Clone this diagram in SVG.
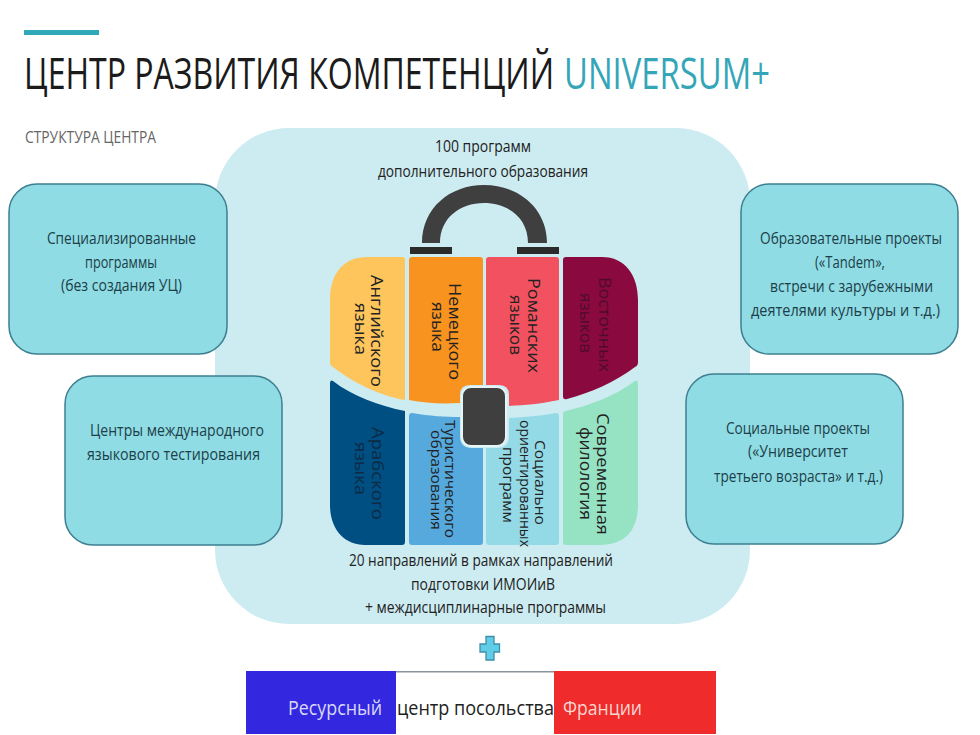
<svg xmlns="http://www.w3.org/2000/svg" width="980" height="735" viewBox="0 0 980 735">
<style>
text{font-family:"Open Sans","Noto Sans","Liberation Sans",sans-serif;fill:#222}
.t{font-size:16px}
.n{font-size:16.500px;fill:#1d3f49}
.box{fill:#8fdce4;stroke:#3d7f90;stroke-width:1.500}
.r{font-size:16px}
.d{font-size:15px}
.f{font-size:18px}
</style>
<rect width="980" height="735" fill="#fff"/>
<rect id="accent-bar" x="24" y="30" width="75" height="5" fill="#2fa9b8"/>
<g id="title">
<text transform="translate(24 89) scale(1 1.36)" font-size="32.400" textLength="530" lengthAdjust="spacingAndGlyphs" style="fill:#1b1b1b">ЦЕНТР РАЗВИТИЯ КОМПЕТЕНЦИЙ</text>
<text transform="translate(564 89) scale(1 1.36)" font-size="32.400" textLength="206" lengthAdjust="spacingAndGlyphs" style="fill:#35a5b8">UNIVERSUM+</text>
<text x="25" y="143" font-size="16" textLength="131" lengthAdjust="spacingAndGlyphs" style="fill:#666">СТРУКТУРА ЦЕНТРА</text>
</g>
<g id="center">
<rect x="215" y="128" width="535" height="496" rx="74" fill="#cdecf1"/>
<text class="t" x="435" y="152" textLength="96" lengthAdjust="spacingAndGlyphs">100 программ</text>
<text class="t" x="378" y="177" textLength="210" lengthAdjust="spacingAndGlyphs">дополнительного образования</text>
<text class="t" x="349" y="566" textLength="264" lengthAdjust="spacingAndGlyphs">20 направлений в рамках направлений</text>
<text class="t" x="411" y="590" textLength="144" lengthAdjust="spacingAndGlyphs">подготовки ИМОИиВ</text>
<text class="t" x="365" y="613" textLength="241" lengthAdjust="spacingAndGlyphs">+ междисциплинарные программы</text>
</g>
<g id="bag-handle">
<path d="M422 243C422 208 450 185 484 185C518 185 547 208 547 243H528C528 218 508 203 484 203C460 203 440 218 440 243Z" fill="#3f3f3f"/>
<rect x="410" y="247" width="42" height="7" fill="#2b2b2b"/>
<rect x="517" y="247" width="42" height="7" fill="#2b2b2b"/>
</g>
<g id="english">
<path d="M333 367Q330 366 330 362V300C330 272 345 257 367 257H402Q405 257 405 260V400C380 396 352 382 333 367Z" fill="#fdc55c"/>
<text class="r" transform="translate(371 275) rotate(90)" textLength="112" lengthAdjust="spacingAndGlyphs">Английского</text>
<text class="r" transform="translate(355 303) rotate(90)" textLength="52" lengthAdjust="spacingAndGlyphs">языка</text>
</g>
<g id="german">
<path d="M412 257H480Q483 257 483 260V385H470Q460 385 460 395V403C440 404 425 403 409 400V260Q409 257 412 257Z" fill="#f7931e"/>
<text class="r" transform="translate(449 283) rotate(90)" textLength="97" lengthAdjust="spacingAndGlyphs">Немецкого</text>
<text class="r" transform="translate(432 302) rotate(90)" textLength="50" lengthAdjust="spacingAndGlyphs">языка</text>
</g>
<g id="romance">
<path d="M489 257H556Q559 257 559 260V400C540 404 525 405 509 406V395Q509 385 499 385H486V260Q486 257 489 257Z" fill="#f2515f"/>
<text class="r" transform="translate(528 278) rotate(90)" textLength="95" lengthAdjust="spacingAndGlyphs">Романских</text>
<text class="r" transform="translate(510 295) rotate(90)" textLength="60" lengthAdjust="spacingAndGlyphs">языков</text>
</g>
<g id="eastern">
<path d="M566 257H602C625 257 638 275 638 300V362Q638 366 635 367C615 382 590 393 567 399Q563 400 563 396V260Q563 257 566 257Z" fill="#8a0a3f"/>
<text class="r" transform="translate(599 277) rotate(90)" textLength="95" lengthAdjust="spacingAndGlyphs" style="fill:#4f0b2b">Восточных</text>
<text class="r" transform="translate(580 293) rotate(90)" textLength="60" lengthAdjust="spacingAndGlyphs" style="fill:#4f0b2b">языков</text>
</g>
<g id="arabic">
<path d="M333 381Q330 379 330 384V505C330 530 345 545 365 545H402Q405 545 405 542V411C380 406 352 396 333 381Z" fill="#004f83"/>
<text class="r" transform="translate(372 427) rotate(90)" textLength="93" lengthAdjust="spacingAndGlyphs" style="fill:#0d2b45">Арабского</text>
<text class="r" transform="translate(355 442) rotate(90)" textLength="53" lengthAdjust="spacingAndGlyphs" style="fill:#0d2b45">языка</text>
</g>
<g id="tourism">
<path d="M412 413C430 416 445 417 460 417V436Q460 448 472 448H483V542Q483 545 480 545H412Q409 545 409 542V416Q409 413 412 413Z" fill="#55a9dd"/>
<text class="d" transform="translate(445 420) rotate(90)" textLength="118" lengthAdjust="spacingAndGlyphs">Туристического</text>
<text class="d" transform="translate(431 430) rotate(90)" textLength="100" lengthAdjust="spacingAndGlyphs">образования</text>
</g>
<g id="social">
<path d="M486 448H497Q509 448 509 436V418C525 417 540 416 556 413Q559 413 559 416V542Q559 545 556 545H489Q486 545 486 542Z" fill="#93dae6"/>
<text class="d" transform="translate(535 440) rotate(90)" textLength="85" lengthAdjust="spacingAndGlyphs">Социально</text>
<text class="d" transform="translate(520 420) rotate(90)" textLength="127" lengthAdjust="spacingAndGlyphs">ориентированных</text>
<text class="d" transform="translate(503 447) rotate(90)" textLength="76" lengthAdjust="spacingAndGlyphs">программ</text>
</g>
<g id="modern-philology">
<path d="M566 411C590 405 615 396 635 381Q638 379 638 384V505C638 530 625 545 600 545H566Q563 545 563 542V414Q563 411 566 411Z" fill="#96e3c4"/>
<text class="r" transform="translate(597 413) rotate(90)" textLength="122" lengthAdjust="spacingAndGlyphs">Современная</text>
<text class="r" transform="translate(580 427) rotate(90)" textLength="93" lengthAdjust="spacingAndGlyphs">филология</text>
</g>
<g id="bag-lock">
<rect x="462" y="387" width="44" height="59" rx="9" fill="#3f3f3f" stroke="#e6f6f8" stroke-width="2"/>
</g>
<g id="specialized">
<rect class="box" x="9" y="184" width="218" height="170" rx="28"/>
<text class="n" x="47" y="244" textLength="149" lengthAdjust="spacingAndGlyphs">Специализированные</text>
<text class="n" x="85" y="268" textLength="72" lengthAdjust="spacingAndGlyphs">программы</text>
<text class="n" x="61" y="291" textLength="121" lengthAdjust="spacingAndGlyphs">(без создания УЦ)</text>
</g>
<g id="testing">
<rect class="box" x="65" y="376" width="217" height="169" rx="28"/>
<text class="n" x="90" y="436" textLength="174" lengthAdjust="spacingAndGlyphs">Центры международного</text>
<text class="n" x="87" y="460" textLength="173" lengthAdjust="spacingAndGlyphs">языкового тестирования</text>
</g>
<g id="education-projects">
<rect class="box" x="741" y="184" width="217" height="170" rx="28"/>
<text class="n" x="760" y="244" textLength="182" lengthAdjust="spacingAndGlyphs">Образовательные проекты</text>
<text class="n" x="815" y="268" textLength="70" lengthAdjust="spacingAndGlyphs">(«Tandem»,</text>
<text class="n" x="770" y="292" textLength="163" lengthAdjust="spacingAndGlyphs">встречи с зарубежными</text>
<text class="n" x="751" y="316" textLength="189" lengthAdjust="spacingAndGlyphs">деятелями культуры и т.д.)</text>
</g>
<g id="social-projects">
<rect class="box" x="686" y="374" width="217" height="170" rx="28"/>
<text class="n" x="726" y="434" textLength="144" lengthAdjust="spacingAndGlyphs">Социальные проекты</text>
<text class="n" x="748" y="457" textLength="100" lengthAdjust="spacingAndGlyphs">(«Университет</text>
<text class="n" x="714" y="482" textLength="169" lengthAdjust="spacingAndGlyphs">третьего возраста» и т.д.)</text>
</g>
<path id="plus" d="M486 636.500H494V644H499.500V652H494V660H486V652H480V644H486Z" fill="#5fcde8" stroke="#3f8fa8" stroke-width="1.300"/>
<g id="resource-center">
<rect x="246" y="671" width="470" height="63" fill="#fff"/>
<rect x="396" y="671" width="158" height="1.500" fill="#8a949c"/>
<rect x="246" y="671" width="150" height="63" fill="#3328e0"/>
<rect x="554" y="671" width="162" height="63" fill="#ef2b2b"/>
<text class="f" transform="translate(288 715) scale(1 1.15)" textLength="94" lengthAdjust="spacingAndGlyphs" style="fill:#d9d8f7">Ресурсный</text>
<text class="f" transform="translate(397 715) scale(1 1.15)" textLength="157" lengthAdjust="spacingAndGlyphs">центр посольства</text>
<text class="f" transform="translate(563 715) scale(1 1.15)" textLength="79" lengthAdjust="spacingAndGlyphs" style="fill:#fbd5d0">Франции</text>
</g>
</svg>
